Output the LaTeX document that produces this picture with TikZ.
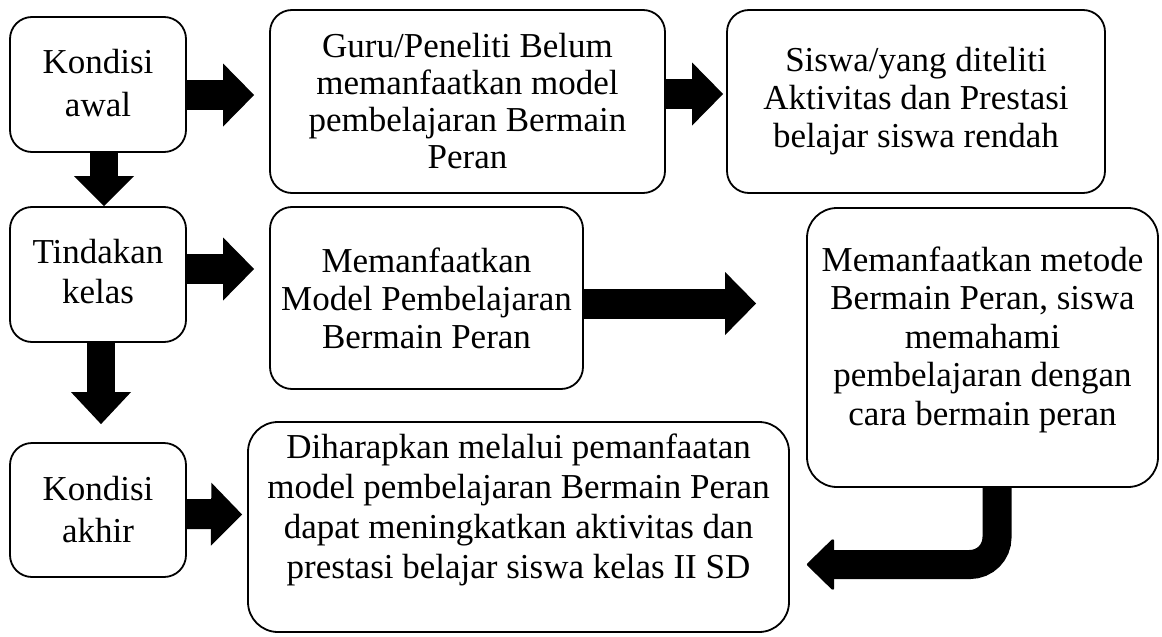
\documentclass[tikz,border=0pt]{standalone}
\usepackage{fontspec}
\setmainfont{Liberation Serif}
\usetikzlibrary{arrows.meta}
\newcommand{\txt}[1]{\fontsize{35}{#1}\selectfont}
\tikzset{
  box/.style={draw,line width=1.8pt,rounded corners=22pt,inner sep=0pt},
  bigbox/.style={box,rounded corners=30pt},
  boxtext/.style={align=center,inner sep=0pt},
  blk/.style={line width=30pt,
              -{Triangle[length=31pt 0 0,width=63pt 0 0,line width=0pt]}},
  blkdown/.style={line width=28pt,
              -{Triangle[length=30pt 0 0,width=60pt 0 0,line width=0pt]}}
}

\begin{document}
\begin{tikzpicture}[x=1pt,y=-1pt]
  \useasboundingbox (0,0) rectangle (1162,637);
  % left column
  \node[box,minimum width=176pt,minimum height=135pt] (awal) at (98,84.5) {};
  \node[boxtext,font=\txt{43}] (awaltxt) at ([yshift=1pt]awal.center) {Kondisi\\awal};
  \node[box,minimum width=176pt,minimum height=135pt] (tindakan) at (98,274.5) {};
  \node[boxtext,font=\txt{40}] (tindakantxt) at ([yshift=3pt]tindakan.center) {Tindakan\\kelas};
  \node[box,minimum width=176pt,minimum height=134pt] (akhir) at (98,510) {};
  \node[boxtext,font=\txt{42}] (akhirtxt) at (akhir.center) {Kondisi\\akhir};

  % top row
  \node[box,minimum width=395pt,minimum height=183pt] (guru) at (467.5,101.5) {};
  \node[boxtext,font=\txt{37}] (gurutxt) at (guru.center)
    {Guru/Peneliti Belum\\memanfaatkan model\\pembelajaran Bermain\\Peran};
  \node[box,minimum width=378pt,minimum height=183pt] (siswa) at (916,101.5) {};
  \node[boxtext,font=\txt{38}] (siswatxt) at (siswa.center)
    {Siswa/yang diteliti\\Aktivitas dan Prestasi\\belajar siswa rendah};

  % middle row
  \node[box,minimum width=313pt,minimum height=182pt] (model) at (426.5,298) {};
  \node[boxtext,font=\txt{38}] (modeltxt) at (model.center)
    {Memanfaatkan\\Model Pembelajaran\\Bermain Peran};
  \node[bigbox,minimum width=351pt,minimum height=279pt] (metode) at (982.5,347.5) {};
  \node[boxtext,font=\txt{38.5}] (metodetxt) at ([yshift=8pt]metode.center)
    {Memanfaatkan metode\\Bermain Peran, siswa\\memahami\\pembelajaran dengan\\cara bermain peran};

  % bottom row
  \node[bigbox,minimum width=541pt,minimum height=210pt] (dihar) at (518.5,527) {};
  \node[boxtext,font=\txt{40}] (dihartxt) at ([yshift=17pt]dihar.center)
    {Diharapkan melalui pemanfaatan\\model pembelajaran Bermain Peran\\dapat meningkatkan aktivitas dan\\prestasi belajar siswa kelas II SD};

  % block arrows
  \draw[blk] ([yshift=-10.5pt]awal.east) -- ([xshift=-15pt,yshift=6.5pt]guru.west);
  \draw[blk] ([yshift=7.5pt]guru.east) -- ([xshift=-3pt,yshift=7.5pt]siswa.west);
  \draw[blkdown] ([xshift=6pt]awal.south) -- ([xshift=6pt]tindakan.north);
  \draw[blk] ([yshift=5.5pt]tindakan.east) -- ([xshift=-15pt,yshift=29pt]model.west);
  \draw[blkdown,-{Triangle[length=32pt 0 0,width=60pt 0 0,line width=0pt]}]
    ([xshift=3pt]tindakan.south) -- ([xshift=3pt,yshift=18pt]akhir.north);
  \draw[blk] ([yshift=-4pt]akhir.east) -- ([xshift=-5pt,yshift=12.5pt]dihar.west);
  \draw[blk] ([yshift=-5.5pt]model.east) -- ([xshift=-50pt,yshift=44pt]metode.west);
  \draw[line width=29pt,rounded corners=27pt,
        -{Triangle[length=28pt 0 0,width=54pt 0 0,line width=3pt,round]}]
    ([xshift=14.5pt]metode.south) |- ([xshift=17pt,yshift=-37.5pt]dihar.east);
\end{tikzpicture}
\end{document}
